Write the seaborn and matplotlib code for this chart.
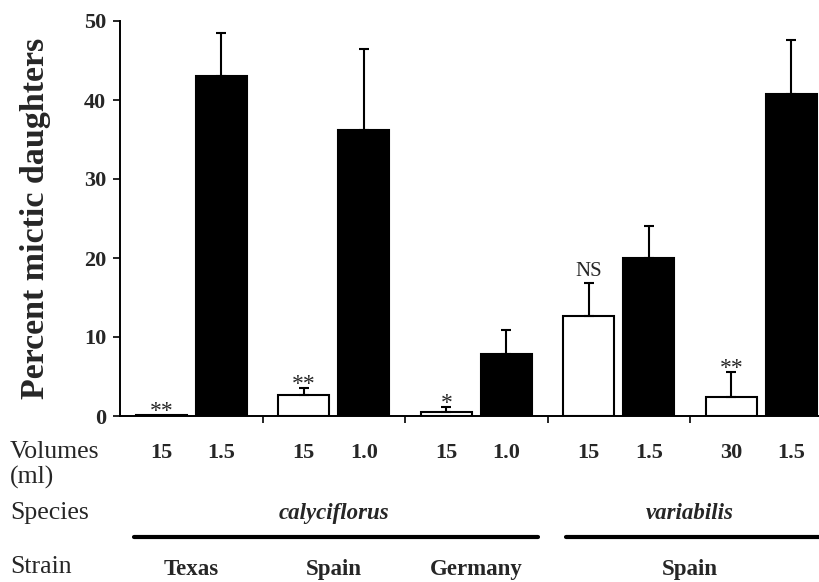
import matplotlib
matplotlib.use("Agg")
import matplotlib.pyplot as plt
import matplotlib.transforms as mtransforms
from matplotlib.lines import Line2D
import seaborn as sns
import pandas as pd

# ---- data ----
groups = ["G1", "G2", "G3", "G4", "G5"]
volumes_small = ["15", "15", "15", "15", "30"]
volumes_large = ["1.5", "1.0", "1.0", "1.5", "1.5"]
white_vals = [0.15, 2.6, 0.5, 12.7, 2.45]
white_err = [0.0, 1.0, 0.7, 4.1, 3.1]
black_vals = [43.1, 36.2, 7.9, 20.0, 40.7]
black_err = [5.4, 10.3, 3.0, 4.1, 6.9]
signif = ["**", "**", "*", "NS", "**"]
species_labels = ["calyciflorus", "variabilis"]
species_pos = [1.0, 3.5]
species_span = [(-0.40, 2.43), (2.63, 4.5)]
strain_labels = ["Texas", "Spain", "Germany", "Spain"]
strain_pos = [0, 1, 2, 3.5]
yticks = [0, 10, 20, 30, 40, 50]

df = pd.DataFrame({
    "group": groups * 2,
    "volume": ["large"] * 5 + ["small"] * 5,
    "value": white_vals + black_vals,
})

sns.set_style("ticks")
plt.rcParams["font.family"] = ["Liberation Serif", "DejaVu Serif"]

fig = plt.figure(figsize=(8.19, 5.82), dpi=100)
ax = fig.add_axes([120 / 819, 1 - 416 / 582, 1 - 120 / 819, (416 - 21) / 582])

sns.barplot(data=df, x="group", y="value", hue="volume", order=groups,
            hue_order=["large", "small"], palette=["white", "black"],
            edgecolor="black", linewidth=1.5, width=0.84, gap=0.15,
            legend=False, errorbar=None, ax=ax)

# error bars (upper only) on bar centres taken from the plotted bars
for cont, vals, errs in [(ax.containers[0], white_vals, white_err),
                         (ax.containers[1], black_vals, black_err)]:
    xs = [p.get_x() + p.get_width() / 2 for p in cont.patches]
    for x, v, e in zip(xs, vals, errs):
        if e > 0:
            ax.errorbar([x], [v], yerr=[[0], [e]], fmt="none", ecolor="black",
                        elinewidth=1.5, capsize=3.8, capthick=1.5, zorder=1)

# significance labels
wx = [p.get_x() + p.get_width() / 2 for p in ax.containers[0].patches]
for x, v, e, s in zip(wx, white_vals, white_err, signif):
    if "*" in s:
        ax.annotate(s, (x, v + e), xytext=(0, -1.5), textcoords="offset points",
                    ha="center", va="baseline", fontsize=17)
    else:
        ax.annotate(s, (x, v + e), xytext=(0, 5), textcoords="offset points",
                    ha="center", va="baseline", fontsize=15)

ax.set_xlim(-0.5, 4.405)
ax.set_ylim(0, 50)
ax.set_yticks(yticks)
ax.set_yticklabels([str(t) for t in yticks], fontsize=16, fontweight="bold")
ax.set_xticks([0.5, 1.5, 2.5, 3.5])
ax.set_xticklabels([])
ax.tick_params(axis="x", length=5, width=1.4, direction="out")
ax.tick_params(axis="y", length=5, width=1.4, direction="out", pad=5)
ax.set_xlabel("")
ax.set_ylabel("Percent mictic daughters", fontsize=24.5, fontweight="bold", labelpad=24)
for s in ["top", "right"]:
    ax.spines[s].set_visible(False)
for s in ["left", "bottom"]:
    ax.spines[s].set_linewidth(1.4)
    ax.spines[s].set_color("black")

# table rows below the axis
trans = mtransforms.blended_transform_factory(ax.transData, fig.transFigure)
def fy(px):
    return 1 - px / 582

row_fs = 18.5
fig.text(10 / 819, fy(458), "Volumes", fontsize=row_fs, va="baseline", ha="left")
fig.text(10 / 819, fy(484), "(ml)", fontsize=row_fs, va="baseline", ha="left")
bx = [p.get_x() + p.get_width() / 2 for p in ax.containers[1].patches]
for x, lab in zip(wx, volumes_small):
    ax.text(x, fy(458), lab, transform=trans, ha="center", va="baseline",
            fontsize=16, fontweight="bold", clip_on=False)
for x, lab in zip(bx, volumes_large):
    ax.text(x, fy(458), lab, transform=trans, ha="center", va="baseline",
            fontsize=16, fontweight="bold", clip_on=False)

fig.text(10 / 819, fy(519), "Species", fontsize=row_fs, va="baseline", ha="left")
for x, lab in zip(species_pos, species_labels):
    ax.text(x, fy(519), lab, transform=trans, ha="center", va="baseline",
            fontsize=16.5, fontweight="bold", style="italic", clip_on=False)
for x0, x1 in species_span:
    ax.add_line(Line2D([x0, x1], [fy(537), fy(537)], transform=trans,
                       color="black", linewidth=3, clip_on=False))

fig.text(10 / 819, fy(573), "Strain", fontsize=row_fs, va="baseline", ha="left")
for x, lab in zip(strain_pos, strain_labels):
    ax.text(x, fy(575), lab, transform=trans, ha="center", va="baseline",
            fontsize=16.5, fontweight="bold", clip_on=False)

fig.savefig("out.png", dpi=100)
